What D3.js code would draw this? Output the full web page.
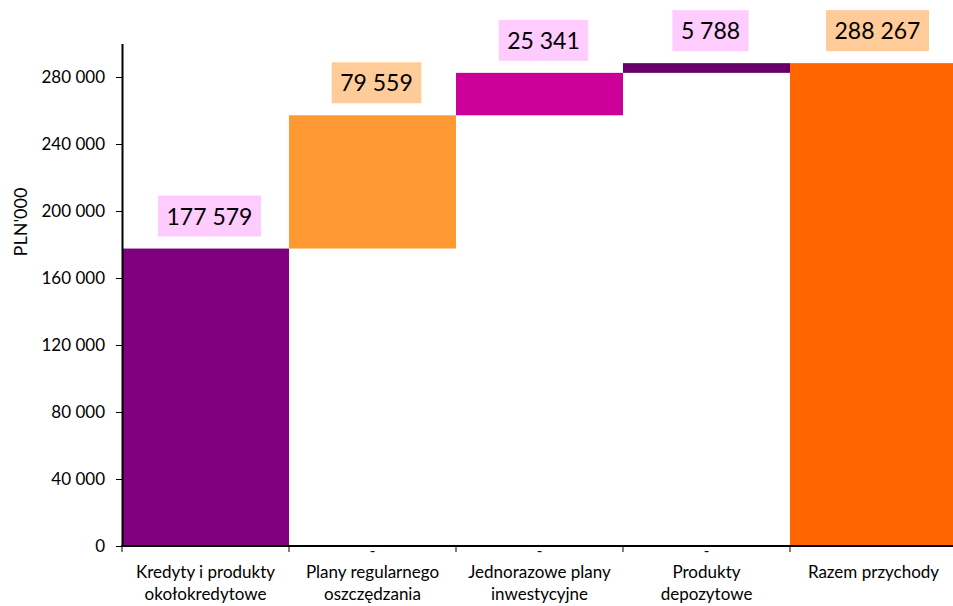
<!DOCTYPE html>
<html>
<head>
<meta charset="utf-8">
<script src="https://cdn.jsdelivr.net/npm/d3@7"></script>
<style>
  body { margin: 0; background: #fff; }
  svg { font-family: Lato, "Open Sans", sans-serif; }
</style>
</head>
<body>
<svg width="953" height="606"></svg>
<script>
// categories (two lines each) and values
var categories = ["Kredyty i produkty|okołokredytowe", "Plany regularnego|oszczędzania",
    "Jednorazowe plany|inwestycyjne", "Produkty|depozytowe", "Razem przychody"];
var values = [177579, 79559, 25341, 5788, 288267];
var isTotal = [false, false, false, false, true];
var yTicks = [0, 40000, 80000, 120000, 160000, 200000, 240000, 280000];
var barColors = ["#800080", "#ff9933", "#cc0099", "#660066", "#ff6600"];
var labelColors = ["#ffccff", "#ffcc99", "#ffccff", "#ffccff", "#ffcc99"];

var svg = d3.select("svg");

var x = d3.scaleBand().domain(categories).range([122, 957]).padding(0);
var y = d3.scaleLinear().domain([0, 300000]).range([546, 43.5]);

// running base for waterfall
var run = 0;
var bars = categories.map((c, i) => {
    var b;
    if (isTotal[i]) b = {c: c, lo: 0, hi: values[i]};
    else { b = {c: c, lo: run, hi: run + values[i]}; run += values[i]; }
    b.v = values[i]; b.i = i;
    return b;
});

svg.selectAll("rect.bar").data(bars).enter().append("rect")
    .attr("class", "bar")
    .attr("x", d => x(d.c))
    .attr("width", x.bandwidth())
    .attr("y", d => y(d.hi))
    .attr("height", d => y(d.lo) - y(d.hi))
    .attr("fill", (d, i) => barColors[i]);

// y axis
var fmt = v => d3.format(",")(v).replace(/,/g, " ");
var yAxis = svg.append("g").attr("transform", "translate(122,0)")
    .call(d3.axisLeft(y).tickValues(yTicks).tickFormat(fmt).tickSize(6).tickSizeOuter(0));
yAxis.select(".domain").attr("stroke", "#000").attr("stroke-width", 2);
yAxis.selectAll(".tick line").attr("stroke", "#000");
yAxis.selectAll(".tick text").attr("font-size", 17).attr("fill", "#000")
    .attr("font-family", "Lato, sans-serif").attr("x", -17);

// x axis
svg.append("line").attr("x1", 121).attr("x2", 953).attr("y1", 546).attr("y2", 546)
    .attr("stroke", "#000").attr("stroke-width", 2);
svg.selectAll("line.xt").data(categories).enter().append("line")
    .attr("x1", d => x(d)).attr("x2", d => x(d))
    .attr("y1", 546).attr("y2", 552).attr("stroke", "#000");

var xl = svg.selectAll("text.cat").data(categories).enter().append("text")
    .attr("text-anchor", "middle").attr("font-size", 17).attr("fill", "#000")
    .attr("transform", d => "translate(" + (x(d) + x.bandwidth() / 2) + ",0)");
xl.each(function (d) {
    var parts = d.split("|");
    var t = d3.select(this);
    parts.forEach((p, k) => {
        t.append("tspan").attr("x", 0).attr("y", 578 + k * 22).text(p);
    });
});

// small dashes under the middle categories
svg.selectAll("text.dash").data(bars.filter(d => !isTotal[d.i] && d.i > 0)).enter().append("text")
    .attr("x", d => x(d.c) + x.bandwidth() / 2).attr("y", 556)
    .attr("text-anchor", "middle").attr("font-size", 15).text("-");

// value labels
var lab = svg.selectAll("g.lab").data(bars).enter().append("g");
lab.each(function (d) {
    var g = d3.select(this);
    var cx = x(d.c) + x.bandwidth() / 2 + 4;
    var bottom = y(d.hi) - 12;
    var r = g.append("rect");
    var t = g.append("text").attr("x", cx).attr("y", bottom - 12)
        .attr("text-anchor", "middle").attr("font-size", 23).attr("fill", "#000")
        .text(fmt(d.v));
    var w = t.node().getComputedTextLength() + 17;
    r.attr("x", cx - w / 2).attr("y", bottom - 41).attr("width", w).attr("height", 41)
        .attr("fill", labelColors[d.i]);
});

// y title
svg.append("text").attr("transform", "translate(27,222) rotate(-90)")
    .attr("text-anchor", "middle").attr("font-size", 18).text("PLN'000");
</script>
</body>
</html>
